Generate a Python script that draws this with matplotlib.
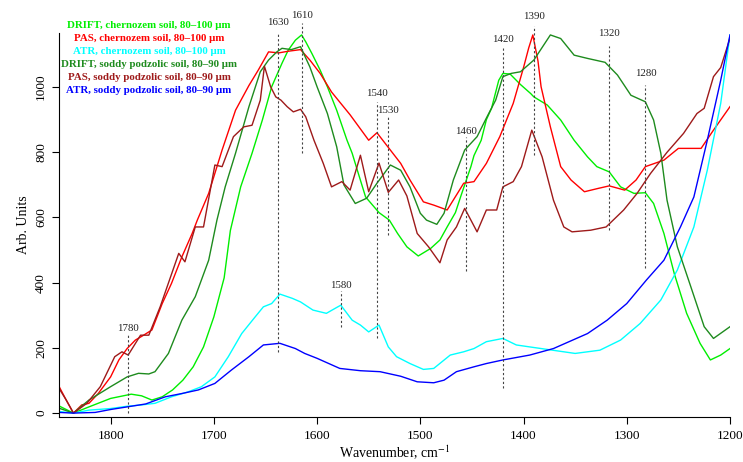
import matplotlib
matplotlib.use("Agg")
import matplotlib.pyplot as plt

plt.rcParams["font.family"] = ["Liberation Serif", "DejaVu Serif"]
plt.rcParams["mathtext.fontset"] = "stix"

# DRIFT, chernozem soil
drift_chern_wn = [1850, 1836, 1821, 1800, 1780, 1770, 1760, 1750, 1740, 1730, 1720, 1710, 1700, 1690, 1684,
                  1674, 1663, 1653, 1644, 1634, 1628, 1621, 1615, 1611, 1605, 1597, 1590, 1581, 1571, 1566,
                  1561, 1553, 1540, 1530, 1522, 1513, 1502, 1490, 1481, 1474, 1466, 1461, 1451, 1448, 1441,
                  1436, 1431, 1424, 1420, 1413, 1403, 1393, 1390, 1377, 1364, 1351, 1338, 1329, 1317, 1306,
                  1293, 1282, 1274, 1264, 1254, 1242, 1229, 1219, 1209, 1200]
drift_chern = [22, 0, 19, 45, 58, 53, 40, 50, 71, 101, 142, 203, 295, 415, 560,
               694, 797, 899, 1001, 1073, 1113, 1144, 1160, 1139, 1103, 1052, 1001, 929, 837, 797,
               745, 663, 615, 592, 551, 510, 482, 505, 531, 571, 615, 663, 756, 790, 837,
               900, 935, 1021, 1042, 1040, 1008, 980, 970, 945, 899, 837, 786, 756, 740, 694,
               674, 676, 643, 551, 428, 306, 214, 163, 178, 198]

# PAS, chernozem soil
pas_chern_wn = [1850, 1843, 1836, 1828, 1821, 1812, 1800, 1792, 1784, 1776, 1768, 1760, 1750, 1741, 1731,
                1721, 1716, 1705, 1692, 1679, 1666, 1657, 1647, 1637, 1628, 1616, 1607, 1597, 1586, 1568,
                1550, 1542, 1531, 1519, 1510, 1497, 1487, 1474, 1464, 1458, 1448, 1436, 1423, 1410, 1400,
                1395, 1391, 1386, 1383, 1374, 1364, 1354, 1341, 1328, 1317, 1302, 1291, 1282, 1264, 1250,
                1228, 1216, 1200]
pas_chern = [82, 40, 0, 25, 30, 60, 111, 163, 198, 224, 239, 255, 336, 398, 479,
             551, 592, 674, 807, 929, 1005, 1052, 1108, 1105, 1110, 1115, 1083, 1042, 985, 915,
             837, 860, 815, 766, 715, 648, 638, 623, 674, 705, 710, 766, 848, 950, 1060,
             1120, 1160, 1080, 1001, 878, 756, 715, 679, 689, 697, 684, 715, 756, 776, 812,
             812, 868, 940]

# ATR, chernozem soil
atr_chern_wn = [1850, 1836, 1821, 1800, 1784, 1770, 1757, 1741, 1725, 1712, 1699, 1686, 1673, 1660, 1652,
                1644, 1636, 1624, 1616, 1604, 1591, 1581, 1577, 1566, 1558, 1550, 1540, 1531, 1523, 1510,
                1497, 1487, 1471, 1458, 1448, 1436, 1420, 1407, 1394, 1383, 1350, 1326, 1306, 1287, 1267,
                1251, 1235, 1222, 1209, 1200]
atr_chern = [5, 0, 9, 14, 21, 25, 30, 50, 65, 81, 111, 173, 244, 295, 326,
             336, 365, 352, 341, 316, 306, 324, 331, 285, 270, 249, 270, 203, 173, 152,
             134, 137, 178, 188, 198, 219, 229, 209, 203, 198, 183, 193, 224, 275, 347,
             439, 571, 745, 950, 1160]

# DRIFT, soddy podzolic soil
drift_sod_wn = [1850, 1836, 1821, 1800, 1784, 1773, 1763, 1757, 1744, 1731, 1718, 1705, 1697, 1689, 1679,
                1666, 1655, 1647, 1639, 1634, 1625, 1616, 1613, 1607, 1600, 1590, 1581, 1574, 1563, 1552,
                1542, 1529, 1519, 1510, 1500, 1494, 1484, 1477, 1468, 1457, 1445, 1436, 1427, 1420, 1412,
                1403, 1390, 1374, 1364, 1351, 1338, 1321, 1309, 1296, 1282, 1274, 1267, 1261, 1251, 1238,
                1225, 1216, 1200]
drift_sod = [15, 0, 40, 81, 111, 122, 120, 127, 183, 285, 357, 469, 592, 694, 797,
             940, 1047, 1083, 1108, 1119, 1115, 1124, 1103, 1062, 1001, 919, 817, 700, 643, 659,
             705, 761, 745, 694, 613, 592, 579, 613, 715, 807, 848, 905, 960, 1032, 1042,
             1047, 1083, 1160, 1149, 1098, 1088, 1076, 1037, 975, 955, 899, 797, 653, 510, 388,
             265, 229, 265]

# PAS, soddy podzolic soil
pas_sod_wn = [1850, 1843, 1836, 1823, 1810, 1796, 1789, 1783, 1771, 1763, 1752, 1734, 1728, 1718, 1710,
              1699, 1692, 1681, 1671, 1663, 1655, 1651, 1645, 1640, 1635, 1629, 1623, 1616, 1611, 1603,
              1594, 1586, 1576, 1568, 1558, 1550, 1540, 1531, 1521, 1513, 1503, 1492, 1481, 1474, 1465,
              1457, 1445, 1436, 1426, 1420, 1410, 1402, 1392, 1382, 1371, 1361, 1353, 1335, 1320, 1303,
              1290, 1277, 1261, 1245, 1232, 1225, 1216, 1209, 1200]
pas_sod = [76, 40, 0, 30, 81, 173, 188, 178, 239, 239, 326, 490, 464, 571, 571,
           761, 756, 848, 878, 883, 960, 1064, 1001, 970, 960, 940, 924, 932, 909, 837,
           766, 694, 710, 684, 791, 679, 767, 677, 715, 666, 551, 510, 461, 531, 571,
           628, 556, 623, 623, 694, 710, 756, 868, 786, 653, 571, 556, 561, 571, 623,
           674, 735, 800, 858, 919, 935, 1032, 1060, 1150]

# ATR, soddy podzolic soil
atr_sod_wn = [1850, 1836, 1815, 1800, 1784, 1766, 1747, 1731, 1715, 1699, 1683, 1666, 1652, 1636, 1621,
              1612, 1600, 1578, 1558, 1539, 1519, 1503, 1487, 1477, 1465, 1448, 1436, 1420, 1394, 1371,
              1338, 1319, 1300, 1281, 1264, 1248, 1235, 1222, 1209, 1200]
atr_sod = [2, 0, 2, 11, 19, 28, 50, 60, 71, 91, 132, 173, 209, 214, 198,
           183, 168, 137, 130, 127, 113, 96, 93, 101, 127, 142, 152, 163, 178, 198,
           244, 285, 336, 408, 469, 571, 663, 837, 1021, 1160]

series = [
    ("DRIFT, chernozem soil, 80\u2013100 \u00b5m", "#00ee00", drift_chern_wn, drift_chern),
    ("PAS, chernozem soil, 80\u2013100 \u00b5m", "#ff0000", pas_chern_wn, pas_chern),
    ("ATR, chernozem soil, 80\u2013100 \u00b5m", "#00ffff", atr_chern_wn, atr_chern),
    ("DRIFT, soddy podzolic soil, 80\u201390 \u00b5m", "#1e8b1e", drift_sod_wn, drift_sod),
    ("PAS, soddy podzolic soil, 80\u201390 \u00b5m", "#9e1a1a", pas_sod_wn, pas_sod),
    ("ATR, soddy podzolic soil, 80\u201390 \u00b5m", "#0000ff", atr_sod_wn, atr_sod),
]

# peak markers: label, position, dashed line range, label height
peak_labels = ["1780", "1630", "1610", "1580", "1540", "1530", "1460", "1420", "1390", "1320", "1280"]
peak_wn = [1783.5, 1638, 1614.7, 1577.3, 1541.7, 1530.9, 1456.2, 1419.9, 1390, 1317.2, 1281.9]
peak_top = [239, 1166, 1196, 374, 955, 914, 846, 1119, 1187, 1126, 1006]
peak_bottom = [0, 187, 798, 264, 230, 546, 436, 77, 791, 561, 445]
peak_text_y = [261, 1197, 1221, 392, 981, 927, 865, 1146, 1218, 1163, 1042]

x_ticks = [1800, 1700, 1600, 1500, 1400, 1300, 1200]
y_ticks = [0, 200, 400, 600, 800, 1000]

fig = plt.figure(figsize=(7.43, 4.62), dpi=100)
ax = fig.add_axes([0.0794, 0.0974, 0.9031, 0.8312])

for label, color, wn, vals in series:
    ax.plot(wn, vals, color=color, lw=1.0)

for lab, x, top, bot, ty in zip(peak_labels, peak_wn, peak_top, peak_bottom, peak_text_y):
    ax.plot([x, x], [bot, top], color="#444444", lw=0.8, ls=(0, (2, 2)), clip_on=False)
    ax.text(x, ty, lab, ha="center", va="center", fontsize=7.8, color="#222222", clip_on=False)

ax.set_xlim(1850, 1200)
ax.set_ylim(-12, 1166)
ax.set_xticks(x_ticks)
ax.set_yticks(y_ticks)
ax.set_yticklabels([str(t) for t in y_ticks], rotation=90, va="center")
ax.tick_params(labelsize=9.5, length=5, width=0.8, direction="out")
ax.tick_params(axis="x", pad=4)
for side in ["top", "right"]:
    ax.spines[side].set_visible(False)
ax.set_xlabel("Wavenumber, cm$^{-1}$", fontsize=10, va="center")
ax.xaxis.set_label_coords(0.5, -0.094)
ax.set_ylabel("Arb. Units", fontsize=10, labelpad=4)

# coloured legend text, top left
for i, (label, color, wn, vals) in enumerate(series):
    fig.text(149 / 743, 1 - (25 + i * 13.1) / 462, label, color=color, fontsize=7.8,
             fontweight="bold", ha="center", va="center")

fig.savefig("out.png", dpi=100)
